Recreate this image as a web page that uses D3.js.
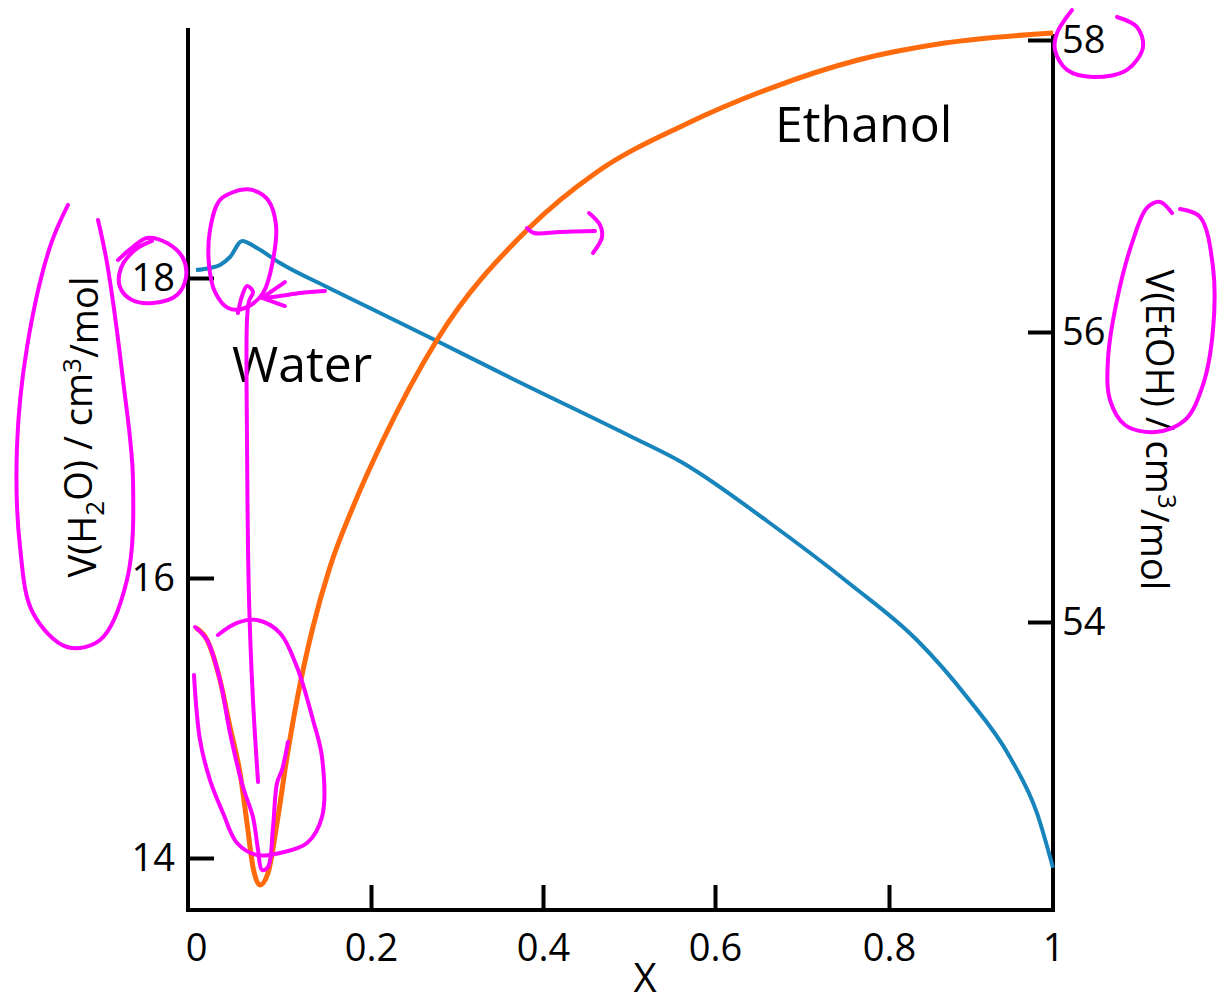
<!DOCTYPE html>
<html><head><meta charset="utf-8">
<script src="https://cdn.jsdelivr.net/npm/d3@7"></script>
<style>
html,body{margin:0;padding:0;background:#fff;}
svg{display:block;font-family:"Open Sans",sans-serif;}
</style></head><body>
<svg id="chart" width="1221" height="1005"></svg>
<script>
// ---- data ----
const xTicks = [0, 0.2, 0.4, 0.6, 0.8, 1];
const leftTicks = [14, 16, 18];
const rightTicks = [54, 56, 58];

// Water partial molar volume (left axis)
const waterX = [0, 0.016, 0.0274, 0.0389, 0.0526, 0.0697, 0.096, 0.1497, 0.2105, 0.2767, 0.365, 0.501, 0.5628, 0.6598, 0.7552, 0.834, 0.895, 0.9476, 0.9805, 1];
const waterV = [18.053, 18.067, 18.087, 18.14, 18.247, 18.2, 18.1, 17.94, 17.767, 17.58, 17.327, 16.947, 16.767, 16.38, 15.957, 15.557, 15.15, 14.72, 14.32, 13.93];

// Ethanol partial molar volume (right axis)
const ethanolX = [0, 0.0126, 0.0274, 0.0389, 0.0503, 0.0583, 0.0651, 0.0731, 0.0823, 0.0926, 0.104, 0.1154, 0.1337, 0.1531, 0.1794, 0.214, 0.2767, 0.3826, 0.4628, 0.564, 0.6644, 0.7644, 0.868, 1];
const ethanolV = [53.959, 53.876, 53.6, 53.276, 52.959, 52.614, 52.31, 52.186, 52.269, 52.614, 53.069, 53.462, 53.966, 54.379, 54.793, 55.255, 55.945, 56.705, 57.096, 57.418, 57.671, 57.863, 57.979, 58.048];

// hand-drawn magenta pen annotations, in chart units (X, V(H2O))
const penTitleLeft = [[-0.1463,18.487],[-0.1669,18.207],[-0.1931,17.54],[-0.2046,16.873],[-0.2011,16.207],[-0.1863,15.75],[-0.1474,15.507],[-0.1097,15.557],[-0.0789,15.986],[-0.072,16.653],[-0.0834,17.32],[-0.1017,18.1],[-0.112,18.387]];
const penTick18 = [[-0.0891,18.12],[-0.072,18.207],[-0.056,18.267],[-0.0331,18.233],[-0.0149,18.133],[-0.0114,18.007],[-0.0217,17.887],[-0.0491,17.833],[-0.0731,17.853],[-0.0869,17.94],[-0.0857,18.067],[-0.0697,18.187],[-0.0503,18.247]];
const penPeak = [[0.0503,18.587],[0.0274,18.52],[0.016,18.32],[0.0149,18.087],[0.0217,17.907],[0.0366,17.8],[0.056,17.8],[0.0766,17.9],[0.088,18.12],[0.0914,18.353],[0.0823,18.52],[0.064,18.587],[0.0503,18.587]];
const penArrowTail = [[0.1474,17.913],[0.1189,17.9],[0.096,17.88],[0.0754,17.867]];
const penArrowHead = [[0.1017,17.973],[0.0754,17.867],[0.1017,17.813]];
const penDrop = [[0.048,17.767],[0.0526,17.88],[0.0583,17.947],[0.0651,17.907],[0.0606,17.847],[0.0583,17.72],[0.0583,16.92],[0.0606,15.843],[0.0651,15.129],[0.0709,14.543]];
const penMinInner = [[-0.0011,15.65],[0.0126,15.557],[0.0274,15.271],[0.0389,14.893],[0.0537,14.507],[0.0651,14.293],[0.0709,14.057],[0.0754,13.914],[0.0823,13.936],[0.088,14.221],[0.0926,14.536],[0.0983,14.629],[0.1051,14.829]];
const penMinOuter = [[-0.0023,15.307],[0.0046,14.843],[0.016,14.557],[0.0309,14.321],[0.0469,14.107],[0.0697,14.021],[0.096,14.036],[0.1269,14.107],[0.144,14.293],[0.144,14.721],[0.1337,14.986],[0.1154,15.364],[0.096,15.607],[0.0697,15.7],[0.0469,15.679],[0.0251,15.593]];
const penCurveMark = [[0.3814,18.333],[0.3895,18.3],[0.4198,18.307],[0.4605,18.313]];
const penCurveParen = [[0.4535,18.433],[0.4663,18.353],[0.4686,18.273],[0.4581,18.167]];
const penTick58 = [[1.0232,19.787],[1.0049,19.633],[1.0024,19.52],[1.0171,19.387],[1.0488,19.34],[1.0902,19.387],[1.1098,19.54],[1.1024,19.673],[1.078,19.74]];
const penTitleRight = [[1.1451,18.433],[1.1305,18.507],[1.1146,18.467],[1.0976,18.253],[1.078,17.853],[1.067,17.453],[1.0695,17.187],[1.0878,17.02],[1.1244,16.973],[1.161,17.053],[1.1829,17.287],[1.1951,17.653],[1.1951,18.073],[1.1793,18.407],[1.1549,18.46]];

// ---- layout ----
const svg = d3.select("#chart");
const x = d3.scaleLinear().domain(xTicks).range([196, 371, 543, 715, 889, 1053]);
const yL = d3.scaleLinear().domain(leftTicks).range([858, 578, 278]);
const yR = d3.scaleLinear().domain(rightTicks).range([622, 332, 40]);
const axisY = 910, leftX = 188, rightX = 1053;

const blue = "#1784bb", orange = "#ff6a0d", pen = "#ff00ff";

// axis lines
svg.append("line").attr("x1", leftX).attr("x2", leftX).attr("y1", 28).attr("y2", axisY + 2)
  .attr("stroke", "#000").attr("stroke-width", 4);
svg.append("line").attr("x1", rightX).attr("x2", rightX).attr("y1", 34).attr("y2", axisY + 2)
  .attr("stroke", "#000").attr("stroke-width", 4);
svg.append("line").attr("x1", leftX - 2).attr("x2", rightX + 2).attr("y1", axisY).attr("y2", axisY)
  .attr("stroke", "#000").attr("stroke-width", 4);

function styleAxis(g) {
  g.select(".domain").remove();
  g.selectAll(".tick line").attr("stroke", "#000").attr("stroke-width", 4);
  g.selectAll(".tick text").attr("fill", "#000").style("font-family", "'Open Sans',sans-serif").style("font-size", "38px");
  g.attr("font-family", null).attr("font-size", null);
}

svg.append("g").attr("transform", `translate(${leftX},0)`)
  .call(d3.axisLeft(yL).tickValues(leftTicks).tickSize(-26).tickPadding(13).tickFormat(d3.format("d")))
  .call(styleAxis);
svg.append("g").attr("transform", `translate(${rightX},0)`)
  .call(d3.axisRight(yR).tickValues(rightTicks).tickSize(-25).tickPadding(9).tickFormat(d3.format("d")))
  .call(styleAxis);
const xg = svg.append("g").attr("transform", `translate(0,${axisY})`)
  .call(d3.axisBottom(x).tickValues(xTicks).tickSize(-25).tickPadding(24).tickFormat(d3.format("~g")))
  .call(styleAxis);
xg.selectAll(".tick").filter(d => d === 0 || d === 1).select("line").remove();

// curves
const lineW = d3.line().x((d, i) => x(waterX[i])).y(d => yL(d)).curve(d3.curveMonotoneX);
const lineE = d3.line().x((d, i) => x(ethanolX[i])).y(d => yR(d)).curve(d3.curveMonotoneX);
svg.append("path").attr("d", lineW(waterV)).attr("fill", "none").attr("stroke", blue)
  .attr("stroke-width", 4).attr("stroke-linejoin", "round");
svg.append("path").attr("d", lineE(ethanolV)).attr("fill", "none").attr("stroke", orange)
  .attr("stroke-width", 5).attr("stroke-linejoin", "round");

// labels
svg.append("text").attr("x", 232).attr("y", 382).attr("font-size", 50).attr("fill", "#000").text("Water");
svg.append("text").attr("x", 775).attr("y", 142).attr("font-size", 50).attr("fill", "#000").text("Ethanol");
svg.append("text").attr("x", 645).attr("y", 992).attr("text-anchor", "middle").attr("font-size", 40).attr("fill", "#000").text("X");

const lt = svg.append("text").attr("transform", "translate(96,427) rotate(-90)")
  .attr("text-anchor", "middle").attr("font-size", 38).attr("fill", "#000");
lt.append("tspan").text("V(H");
lt.append("tspan").attr("font-size", 26).attr("dy", "0.3em").text("2");
lt.append("tspan").attr("dy", "-0.3em").text("O) / cm");
lt.append("tspan").attr("font-size", 26).attr("dy", "-0.45em").text("3");
lt.append("tspan").attr("dy", "0.45em").text("/mol");

const rt = svg.append("text").attr("transform", "translate(1146,430) rotate(90)")
  .attr("text-anchor", "middle").attr("font-size", 38).attr("fill", "#000");
rt.append("tspan").text("V(EtOH) / cm");
rt.append("tspan").attr("font-size", 26).attr("dy", "-0.45em").text("3");
rt.append("tspan").attr("dy", "0.45em").text("/mol");

// pen annotations
const penLine = d3.line().x(d => x(d[0])).y(d => yL(d[1])).curve(d3.curveCatmullRom.alpha(0.5));
const penLineStraight = d3.line().x(d => x(d[0])).y(d => yL(d[1]));
[penTitleLeft, penTick18, penPeak, penArrowTail, penDrop, penMinInner, penMinOuter, penCurveMark, penCurveParen, penTick58, penTitleRight]
  .forEach(s => svg.append("path").attr("d", penLine(s)).attr("fill", "none").attr("stroke", pen)
    .attr("stroke-width", 4).attr("stroke-linecap", "round").attr("stroke-linejoin", "round"));
svg.append("path").attr("d", penLineStraight(penArrowHead)).attr("fill", "none").attr("stroke", pen)
  .attr("stroke-width", 4).attr("stroke-linecap", "round").attr("stroke-linejoin", "round");
</script>
</body></html>
